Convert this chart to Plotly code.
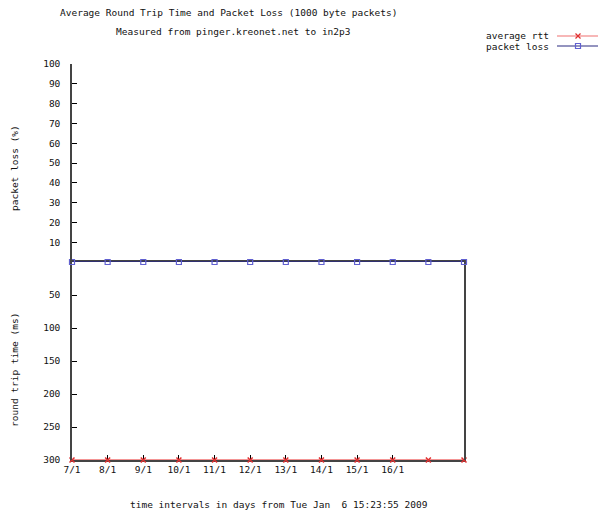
import plotly.graph_objects as go

# ---- data ----
day_index = [0, 1, 2, 3, 4, 5, 6, 7, 8, 9, 10, 11]
tick_labels = ["7/1", "8/1", "9/1", "10/1", "11/1", "12/1", "13/1", "14/1", "15/1", "16/1"]
avg_rtt = [300, 300, 300, 300, 300, 300, 300, 300, 300, 300, 300, 300]
packet_loss = [0, 0, 0, 0, 0, 0, 0, 0, 0, 0, 0, 0]
loss_ticks = [10, 20, 30, 40, 50, 60, 70, 80, 90, 100]
rtt_ticks = [50, 100, 150, 200, 250, 300]

OFF = 8  # page body margin
W, H = 606 - OFF, 518 - OFF
L, T = 72 - OFF, 64 - OFF
R = W - (464 - OFF)
B = H - (460 - OFF)
PW, PH = W - L - R, H - T - B
FONT = "DejaVu Sans Mono"
FS = 9.5
TXT = "#111111"
RED = "#f07070"
BLUE = "#2a2a80"
LBLUE = "#6060d0"


def px(x, y):
    # reference-page pixel -> paper coords
    x -= OFF
    y -= OFF
    return (x - L) / PW, (H - B - y) / PH


fig = go.Figure()

fig.add_trace(go.Scatter(
    x=day_index, y=avg_rtt, xaxis="x", yaxis="y2", mode="lines+markers",
    name="average rtt", line=dict(color=RED, width=1.5),
    marker=dict(symbol="x-thin", size=5, line=dict(color="#e03030", width=1.5), color="#e03030"),
    cliponaxis=False, showlegend=False))

fig.add_trace(go.Scatter(
    x=day_index, y=packet_loss, xaxis="x2", yaxis="y", mode="lines+markers",
    name="packet loss", line=dict(color=BLUE, width=1.6),
    marker=dict(symbol="square-open", size=5, color=LBLUE, line=dict(width=1.2)),
    cliponaxis=False, showlegend=False))

axfont = dict(family=FONT, size=FS, color=TXT)

fig.update_layout(
    width=W, height=H,
    margin=dict(l=L, r=R, t=T, b=B),
    paper_bgcolor="white", plot_bgcolor="white",
    font=axfont,
    showlegend=False,
    xaxis=dict(domain=[0, 1], range=[0, 11], anchor="y2",
               tickvals=list(range(len(tick_labels))) + [11],
               ticktext=tick_labels + [""],
               ticks="inside", ticklen=5, tickcolor="black", tickwidth=1,
               showline=True, linecolor="#444444", linewidth=1.5, mirror=True,
               showgrid=False, zeroline=False, tickfont=axfont, layer="below traces"),
    xaxis2=dict(domain=[0, 1], range=[0, 11], anchor="y", matches="x",
                showticklabels=False, ticks="", showline=False,
                showgrid=False, zeroline=False),
    yaxis=dict(domain=[0.5, 1], range=[0, 100], anchor="x2",
               tickvals=loss_ticks, ticks="inside", ticklen=5, tickcolor="black",
               showline=True, linecolor="#444444", linewidth=1.5,
               showgrid=False, zeroline=False, tickfont=axfont, ticklabelstandoff=8),
    yaxis2=dict(domain=[0, 0.5], range=[300, 0], anchor="x",
                tickvals=rtt_ticks, ticks="inside", ticklen=5, tickcolor="black",
                showline=True, linecolor="#444444", linewidth=1.5, mirror=True,
                showgrid=False, zeroline=False, tickfont=axfont, ticklabelstandoff=8),
)

annotations = []


def add_text(text, x, y, xanchor="center", angle=0):
    ax, ay = px(x, y)
    annotations.append(dict(text=text, x=ax, y=ay, xref="paper", yref="paper",
                            xanchor=xanchor, yanchor="middle", showarrow=False,
                            textangle=angle, font=axfont))


add_text("Average Round Trip Time and Packet Loss (1000 byte packets)", 228, 12)
add_text("Measured from pinger.kreonet.net to in2p3", 233, 32)
add_text("packet loss (%)", 14, 168, angle=-90)
add_text("round trip time (ms)", 14, 370, angle=-90)
add_text("time intervals in days from Tue Jan&nbsp;&nbsp;6 15:23:55 2009", 279, 505)
add_text("average rtt", 551, 36, xanchor="right")
add_text("packet loss", 551, 46, xanchor="right")

shapes = []
# legend line samples
for yy, col in [(36, RED), (46, BLUE)]:
    x0, y0 = px(557, yy)
    x1, _ = px(600, yy)
    shapes.append(dict(type="line", xref="paper", yref="paper", x0=x0, x1=x1, y0=y0, y1=y0,
                       line=dict(color=col, width=1.2)))
# legend markers
cx, cy = px(578, 36)
dx, dy = 2.5 / PW, 2.5 / PH
shapes.append(dict(type="line", xref="paper", yref="paper", x0=cx - dx, x1=cx + dx,
                   y0=cy - dy, y1=cy + dy, line=dict(color="#e03030", width=1.2)))
shapes.append(dict(type="line", xref="paper", yref="paper", x0=cx - dx, x1=cx + dx,
                   y0=cy + dy, y1=cy - dy, line=dict(color="#e03030", width=1.2)))
cx, cy = px(578, 46)
shapes.append(dict(type="rect", xref="paper", yref="paper", x0=cx - dx, x1=cx + dx,
                   y0=cy - dy, y1=cy + dy, line=dict(color=LBLUE, width=1.2)))

fig.update_layout(annotations=annotations, shapes=shapes)

fig.write_html("out.html")
